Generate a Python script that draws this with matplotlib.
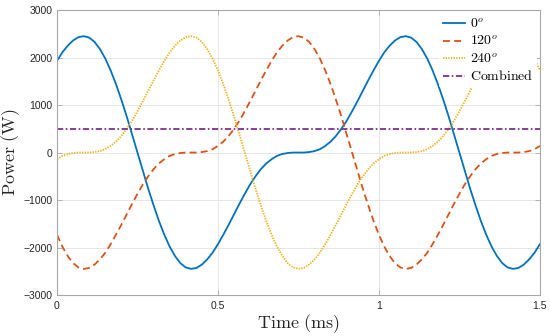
import numpy as np
import matplotlib
matplotlib.use("Agg")
import matplotlib.pyplot as plt

# ---- data ----
time_ms = np.linspace(0, 1.5, 91)

p_0 = [1930, 2110, 2250, 2360, 2430, 2450, 2420, 2330, 2180, 1980,
       1730, 1440, 1110, 760, 380, 0, -380, -760, -1110, -1440,
       -1730, -1980, -2180, -2330, -2420, -2450, -2430, -2360, -2250, -2110,
       -1930, -1730, -1520, -1300, -1080, -870, -670, -500, -350, -230,
       -140, -70, -30, -10, 0, 0, 0, 10, 30, 70,
       140, 230, 350, 500, 670, 870, 1080, 1300, 1520, 1730,
       1930, 2110, 2250, 2360, 2430, 2450, 2420, 2330, 2180, 1980,
       1730, 1440, 1110, 760, 380, 0, -380, -760, -1110, -1440,
       -1730, -1980, -2180, -2330, -2420, -2450, -2430, -2360, -2250, -2110,
       -1930]

p_120 = [-1730, -1980, -2180, -2330, -2420, -2450, -2430, -2360, -2250, -2110,
         -1930, -1730, -1520, -1300, -1080, -870, -670, -500, -350, -230,
         -140, -70, -30, -10, 0, 0, 0, 10, 30, 70,
         140, 230, 350, 500, 670, 870, 1080, 1300, 1520, 1730,
         1930, 2110, 2250, 2360, 2430, 2450, 2420, 2330, 2180, 1980,
         1730, 1440, 1110, 760, 380, 0, -380, -760, -1110, -1440,
         -1730, -1980, -2180, -2330, -2420, -2450, -2430, -2360, -2250, -2110,
         -1930, -1730, -1520, -1300, -1080, -870, -670, -500, -350, -230,
         -140, -70, -30, -10, 0, 0, 0, 10, 30, 70,
         140]

p_240 = [-140, -70, -30, -10, 0, 0, 0, 10, 30, 70,
         140, 230, 350, 500, 670, 870, 1080, 1300, 1520, 1730,
         1930, 2110, 2250, 2360, 2430, 2450, 2420, 2330, 2180, 1980,
         1730, 1440, 1110, 760, 380, 0, -380, -760, -1110, -1440,
         -1730, -1980, -2180, -2330, -2420, -2450, -2430, -2360, -2250, -2110,
         -1930, -1730, -1520, -1300, -1080, -870, -670, -500, -350, -230,
         -140, -70, -30, -10, 0, 0, 0, 10, 30, 70,
         140, 230, 350, 500, 670, 870, 1080, 1300, 1520, 1730,
         1930, 2110, 2250, 2360, 2430, 2450, 2420, 2330, 2180, 1980,
         1730]

combined_t = [0, 1.5]
combined = [500, 500]

labels = [r'$0^o$', r'$120^o$', r'$240^o$', r'$\mathrm{Combined}$']
x_ticks = [0, 0.5, 1, 1.5]
x_tick_labels = ['0', '0.5', '1', '1.5']
y_ticks = [-3000, -2000, -1000, 0, 1000, 2000, 3000]

# ---- style ----
plt.rcParams['mathtext.fontset'] = 'cm'
plt.rcParams['font.family'] = ['Liberation Sans', 'DejaVu Sans']
plt.rcParams['lines.scale_dashes'] = False

fig = plt.figure(figsize=(5.5, 3.36), dpi=100)
ax = fig.add_axes([0.1036, 0.122, 0.878, 0.848])

lw = 1.3
ax.plot(time_ms, p_0, color='#0072BD', lw=lw, label=labels[0])
ax.plot(time_ms, p_120, color='#D95319', lw=lw, dashes=(5, 3), label=labels[1])
ax.plot(time_ms, p_240, color='#EDB120', lw=lw, dashes=(1.0, 0.9), label=labels[2])
ax.plot(combined_t, combined, color='#7E2F8E', lw=lw, dashes=(4.5, 1.8, 1.2, 1.8),
        label=labels[3])

ax.set_xlim(0, 1.5)
ax.set_ylim(-3000, 3000)
ax.set_xticks(x_ticks)
ax.set_xticklabels(x_tick_labels)
ax.set_yticks(y_ticks)

ax.grid(True, color='#e6e6e6', lw=0.7)
ax.set_axisbelow(True)
for s in ax.spines.values():
    s.set_color('#a8a8a8')
    s.set_linewidth(0.8)
ax.tick_params(direction='in', length=3.5, width=0.6, color='#a8a8a8',
               labelsize=7.5, labelcolor='#262626', top=True, right=True)
ax.tick_params(axis='y', pad=3)
ax.tick_params(axis='x', pad=4)

ax.set_xlabel(r'$\mathrm{Time\ (ms)}$', fontsize=13, color='#262626', labelpad=1)
ax.set_ylabel(r'$\mathrm{Power\ (W)}$', fontsize=13, color='#262626')
ax.yaxis.set_label_coords(-0.072, 0.5)

leg = ax.legend(loc='upper right', fontsize=10, frameon=True, framealpha=1,
                facecolor='white', edgecolor='none', handlelength=1.6,
                handletextpad=0.3, labelspacing=0.25, borderpad=0.3,
                borderaxespad=0.2)
leg.get_frame().set_linewidth(0)

fig.savefig('out.png', dpi=100)
